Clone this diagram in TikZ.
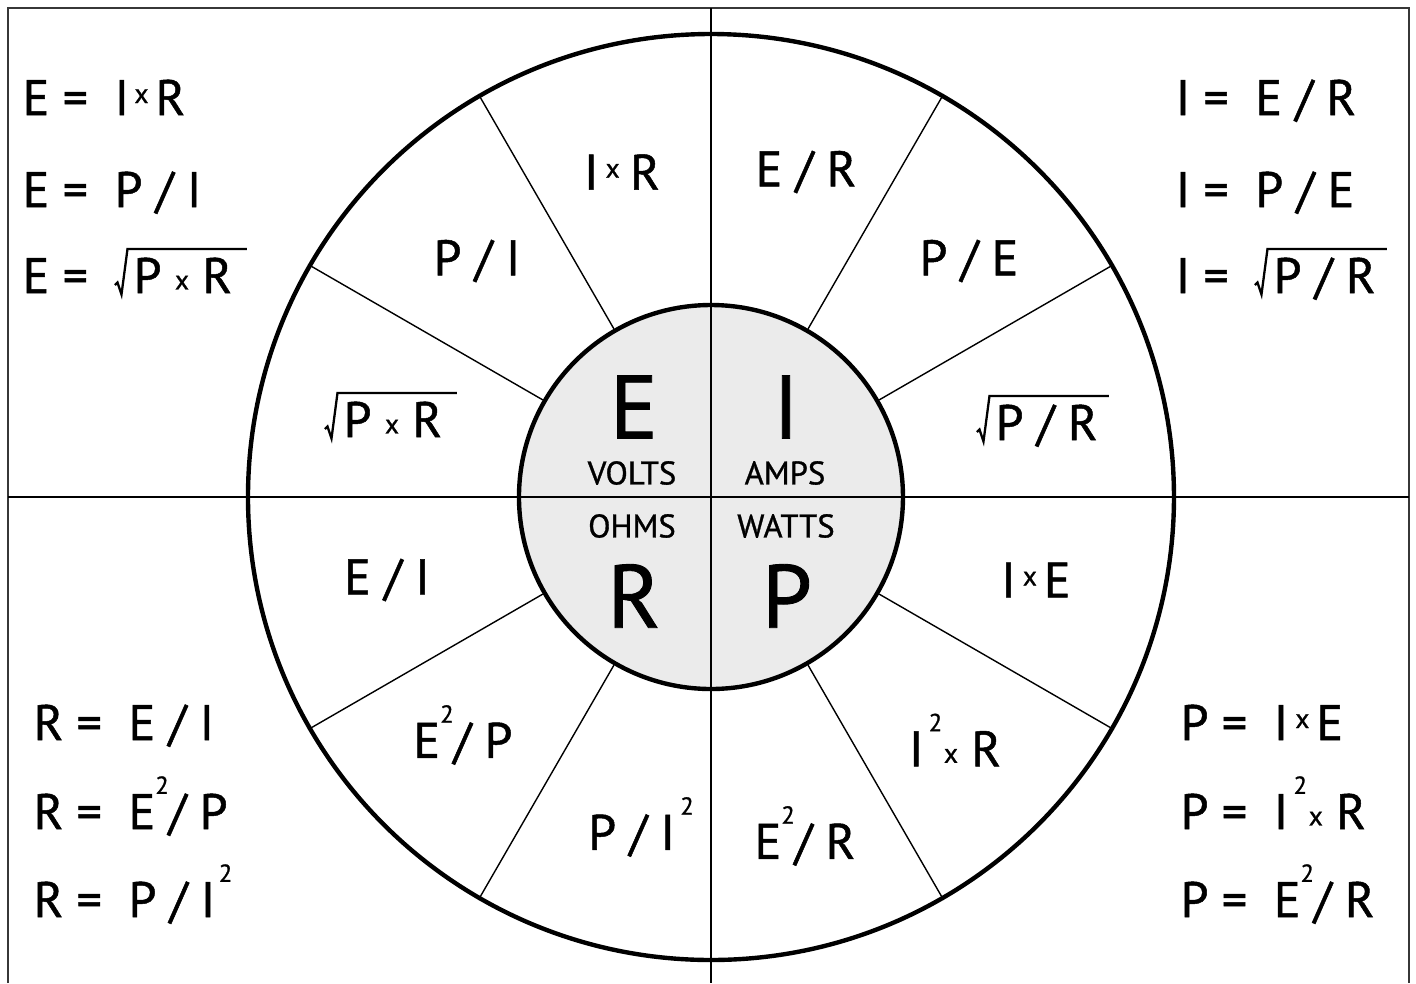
\documentclass[tikz,border=0pt]{standalone}
\usepackage{fontspec}
\setmainfont{PT Sans}[FakeBold=1]
\usepackage{tikz}
\usetikzlibrary{calc}
\definecolor{coregrey}{RGB}{235,235,235}
\definecolor{framegrey}{RGB}{55,55,55}
\newcommand{\xup}{\raisebox{3.4pt}{\fontsize{7.8}{7.8}\selectfont x}}
\newcommand{\xlow}{\raisebox{1pt}{\fontsize{7.8}{7.8}\selectfont x}}
\newcommand{\sqtwo}{\raisebox{10pt}{\fontsize{7}{7}\selectfont 2}}
% square-root sign over a named node
\newcommand{\rootmark}[1]{%
    \draw[rootline] ($(#1.base west)+(-0.18,0.08)$) -- ($(#1.base west)+(-0.155,0.105)$)
        -- ($(#1.base west)+(-0.115,-0.015)$) -- ($(#1.base west)+(-0.055,0.44)$)
        -- ($(#1.base west)+(1.14,0.44)$);}

\begin{document}
\begin{tikzpicture}[
    frm/.style={line width=0.55pt, framegrey},
    midline/.style={line width=0.8pt},
    ring/.style={circle, draw, line width=1.25pt, inner sep=0pt},
    spoke/.style={line width=0.4pt},
    rootline/.style={line width=0.65pt, line join=miter},
    fml/.style={anchor=base west, inner sep=0pt, font=\fontsize{14.2}{14.2}\selectfont},
    cell/.style={inner sep=0pt, font=\fontsize{14.2}{14.2}\selectfont},
    bigsym/.style={inner sep=0pt, font=\fontsize{25.5}{25.5}\selectfont},
    unitlbl/.style={inner sep=0pt, font=\fontsize{9.3}{9.3}\selectfont}
]
    \useasboundingbox (-7.11,-4.86) rectangle (7.05,4.97);
    % frame and axes
    \coordinate (fbl) at (-7.03,-4.86);
    \coordinate (ftl) at (-7.03,4.89);
    \coordinate (ftr) at (6.98,4.89);
    \coordinate (fbr) at (6.98,-4.86);
    \coordinate (ml) at (-7.03,0);
    \coordinate (mr) at (6.98,0);
    \coordinate (mt) at (0,4.89);
    \coordinate (mb) at (0,-4.86);
    \node[ring, fill=coregrey, minimum size=3.84cm] (core) at (0,0) {};
    \node[ring, minimum size=9.26cm] (rim) at (0,0) {};
    \draw[frm] (fbl) -- (ftl) -- (ftr) -- (fbr);
    \draw[midline] (ml) -- (mr);
    \draw[midline, line width=0.7pt] (mt) -- (mb);
    \foreach \a in {30,60,120,150,210,240,300,330}
        \draw[spoke] (core.\a) -- (rim.\a);

    % centre
    \node[bigsym] (symE) at (-0.77,0.90) {E};
    \node[bigsym] (symI) at (0.75,0.90) {I};
    \node[bigsym] (symR) at (-0.77,-0.99) {R};
    \node[bigsym] (symP) at (0.76,-0.99) {P};
    \node[unitlbl] (volts) at (-0.79,0.24) {VOLTS};
    \node[unitlbl] (amps) at (0.74,0.24) {AMPS};
    \node[unitlbl] (ohms) at (-0.79,-0.29) {OHMS};
    \node[unitlbl] (watts) at (0.75,-0.29) {WATTS};

    % ring cells
    \node[cell] (c1) at (-0.89,3.25) {I\kern2pt\xup\kern3pt R};
    \node[cell] (c2) at (-2.34,2.36) {P / I};
    \node[fml] (c3) at (-3.68,0.60) {P \xlow\ R};
    \node[cell] (c4) at (0.95,3.25) {E / R};
    \node[cell] (c5) at (2.58,2.36) {P / E};
    \node[fml] (c6) at (2.84,0.57) {P / R};
    \node[cell] (c7) at (-3.24,-0.83) {E / I};
    \node[cell] (c8) at (-2.48,-2.38) {E\sqtwo/ P};
    \node[cell] (c9) at (-0.70,-3.30) {P / I\kern1.5pt\sqtwo};
    \node[cell] (c10) at (3.25,-0.83) {I\kern2pt\xup\kern2pt E};
    \node[cell] (c11) at (2.44,-2.43) {I\kern1.5pt\sqtwo\kern0.5pt\xlow\ R};
    \node[cell] (c12) at (0.94,-3.39) {E\sqtwo/ R};
    \rootmark{c3}
    \rootmark{c6}

    % corner formulas
    \node[fml] (e1) at (-6.89,3.82) {E = \ I\kern1.5pt\xup\kern2pt R};
    \node[fml] (e2) at (-6.89,2.90) {E = \ P / I};
    \node[fml] (e3) at (-6.89,2.04) {E =};
    \node[fml] (e3r) at (-5.78,2.04) {P \xlow\ R};
    \node[fml] (i1) at (4.64,3.82) {I = \ E / R};
    \node[fml] (i2) at (4.64,2.90) {I = \ P / E};
    \node[fml] (i3) at (4.64,2.04) {I =};
    \node[fml] (i3r) at (5.62,2.04) {P / R};
    \node[fml] (r1) at (-6.78,-2.43) {R = \ E / I};
    \node[fml] (r2) at (-6.78,-3.32) {R = \ E\sqtwo/ P};
    \node[fml] (r3) at (-6.78,-4.20) {R = \ P / I\kern1pt\sqtwo};
    \node[fml] (p1) at (4.69,-2.43) {P = \ I\kern2pt\xup\kern2pt E};
    \node[fml] (p2) at (4.69,-3.32) {P = \ I\kern1.5pt\sqtwo\kern0.5pt\xlow\ R};
    \node[fml] (p3) at (4.69,-4.20) {P = \ E\sqtwo/ R};
    \rootmark{e3r}
    \rootmark{i3r}
\end{tikzpicture}
\end{document}
